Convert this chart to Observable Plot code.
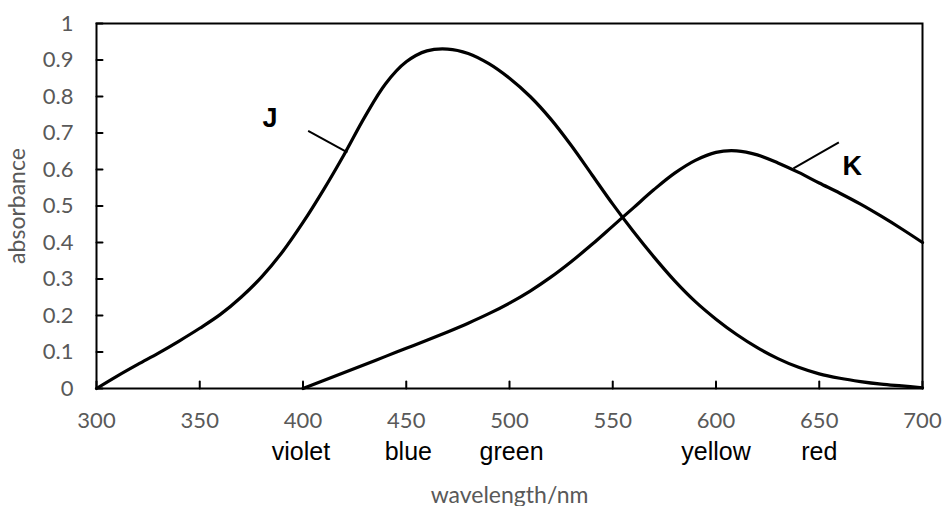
<!DOCTYPE html>
<html>
<head>
<meta charset="utf-8">
<script src="https://cdn.jsdelivr.net/npm/d3@7"></script>
<script src="https://cdn.jsdelivr.net/npm/@observablehq/plot@0.6"></script>
<style>
  html, body { margin: 0; padding: 0; background: #fff; }
</style>
</head>
<body>
<div id="chart"></div>
<script>
// wavelength (nm) and absorbance for curve J
const jWavelength = [300,310,320,330,340,350,360,370,380,390,400,410,420,430,440,450,460,470,480,490,500,510,520,530,540,550,560,570,580,590,600,610,620,630,640,650,660,670,680,690,700];
const jAbsorbance = [0,0.034,0.066,0.097,0.13,0.165,0.203,0.25,0.306,0.374,0.455,0.545,0.642,0.745,0.835,0.895,0.925,0.93,0.918,0.89,0.85,0.80,0.738,0.665,0.585,0.505,0.43,0.36,0.295,0.238,0.19,0.148,0.112,0.082,0.058,0.04,0.028,0.019,0.012,0.007,0.002];
// wavelength (nm) and absorbance for curve K
const kWavelength = [400,410,420,430,440,450,460,470,480,490,500,510,520,530,540,550,560,570,580,590,600,610,620,630,640,650,660,670,680,690,700];
const kAbsorbance = [0,0.022,0.044,0.066,0.088,0.11,0.132,0.155,0.179,0.205,0.234,0.267,0.305,0.348,0.395,0.445,0.495,0.545,0.59,0.625,0.647,0.651,0.64,0.618,0.592,0.563,0.535,0.505,0.472,0.437,0.4];

const xTicks = [300,350,400,450,500,550,600,650,700];
const yTicks = [0,0.1,0.2,0.3,0.4,0.5,0.6,0.7,0.8,0.9,1];

// colour names under the axis, at their wavelengths
const colourNames = ["violet","blue","green","yellow","red"];
const colourWavelengths = [399,451,501,600,650];

// curve labels and leader lines
const curveNames = ["J","K"];
const curveLabelX = [384,666];
const curveLabelY = [0.74,0.608];
const leaderX1 = [402.5,637.5];
const leaderY1 = [0.706,0.603];
const leaderX2 = [421.5,659.5];
const leaderY2 = [0.647,0.674];

const J = jWavelength.map((w,i)=>({w, a:jAbsorbance[i]}));
const K = kWavelength.map((w,i)=>({w, a:kAbsorbance[i]}));
const colours = colourNames.map((n,i)=>({n, w:colourWavelengths[i]}));
const labels = curveNames.map((n,i)=>({n, x:curveLabelX[i], y:curveLabelY[i]}));
const leaders = curveNames.map((n,i)=>({x1:leaderX1[i], y1:leaderY1[i], x2:leaderX2[i], y2:leaderY2[i]}));

// plain straight tick shape for vectors
const tickShape = {draw(context, l) { context.moveTo(0, 0); context.lineTo(0, -l); }};

const gray = "#595959";
const chart = Plot.plot({
  width: 943,
  height: 506,
  marginLeft: 96,
  marginRight: 21,
  marginTop: 23,
  marginBottom: 118,
  style: {fontFamily: "Lato, 'Open Sans', sans-serif", background: "#fff", overflow: "visible"},
  x: {domain: [300,700]},
  y: {domain: [0,1]},
  marks: [
    // tick labels
    Plot.axisX(xTicks, {tickSize: 0, tickPadding: 24, fontSize: 22, color: gray, label: null}),
    Plot.axisY(yTicks, {tickSize: 0, tickPadding: 23, fontSize: 22, color: gray, label: null, tickFormat: d => String(d)}),
    // inward ticks
    Plot.vector(xTicks, {x: d => d, frameAnchor: "bottom", length: 7, rotate: 0, anchor: "start", shape: tickShape, stroke: "#000", strokeWidth: 2}),
    Plot.vector(yTicks, {y: d => d, frameAnchor: "left", length: 6, rotate: 90, anchor: "start", shape: tickShape, stroke: "#000", strokeWidth: 2}),
    Plot.frame({stroke: "#000", strokeWidth: 2}),
    Plot.line(J, {x: "w", y: "a", curve: "catmull-rom", stroke: "#000", strokeWidth: 3.2}),
    Plot.line(K, {x: "w", y: "a", curve: "catmull-rom", stroke: "#000", strokeWidth: 3.2}),
    Plot.link(leaders, {x1: "x1", y1: "y1", x2: "x2", y2: "y2", stroke: "#000", strokeWidth: 2}),
    Plot.text(labels, {x: "x", y: "y", text: "n", fontSize: 27, fontWeight: "bold", fontFamily: "'Liberation Sans', Arial, sans-serif", fill: "#000"}),
    Plot.text(colours, {x: "w", text: "n", frameAnchor: "bottom", dy: 71, fontSize: 25, fontFamily: "'Liberation Sans', Arial, sans-serif", fill: "#000"}),
    Plot.text(["wavelength/nm"], {frameAnchor: "bottom", dy: 114, fontSize: 23, fill: gray}),
    Plot.text(["absorbance"], {frameAnchor: "left", textAnchor: "middle", dx: -79, rotate: -90, fontSize: 23, fill: gray})
  ]
});
document.getElementById("chart").appendChild(chart);
</script>
</body>
</html>
